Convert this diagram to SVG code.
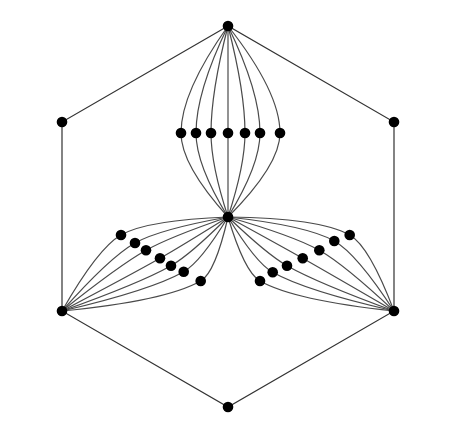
<svg xmlns="http://www.w3.org/2000/svg" width="460" height="429" viewBox="0 0 460 429">
<style>
.edge{fill:none;stroke:#333;stroke-width:1.2}
.curve{fill:none;stroke:#4a4a4a;stroke-width:1.2}
.node{fill:#000}
</style>
<rect width="460" height="429" fill="#fff"/>
<g id="connectors">
<path class="edge" d="M228,26 L62,122 L62,311 L228,407 L394,311 L394,122 Z"/>
<path class="curve" d="M228,26 Q181,92 181,133 Q181,165 228,217"/>
<path class="curve" d="M228,26 Q196,92 196,133 Q196,165 228,217"/>
<path class="curve" d="M228,26 Q211,92 211,133 Q211,165 228,217"/>
<path class="curve" d="M228,26 L228,217"/>
<path class="curve" d="M228,26 Q245,92 245,133 Q245,165 228,217"/>
<path class="curve" d="M228,26 Q260,92 260,133 Q260,165 228,217"/>
<path class="curve" d="M228,26 Q280,92 280,133 Q280,165 228,217"/>
<path class="curve" d="M228,217 Q147.6,219.9 121,235 Q97.9,248.1 62,311"/>
<path class="curve" d="M228,217 Q159.5,229.2 135,243 Q109.7,257.3 62,311"/>
<path class="curve" d="M228,217 Q168.9,237.3 146,250.3 Q119.1,265.5 62,311"/>
<path class="curve" d="M228,217 Q180.8,246.5 160,258.3 Q130.9,274.8 62,311"/>
<path class="curve" d="M228,217 Q190.2,254.8 171,265.7 Q140.4,283 62,311"/>
<path class="curve" d="M228,217 Q200.8,262 183.7,271.7 Q151,290.2 62,311"/>
<path class="curve" d="M228,217 Q215.2,272.8 200.7,281 Q165.3,301 62,311"/>
<path class="curve" d="M228,217 Q319.8,218.1 349.7,235 Q369.5,246.2 394,311"/>
<path class="curve" d="M228,217 Q307.1,225.6 334.3,241 Q356.8,253.8 394,311"/>
<path class="curve" d="M228,217 Q294.2,236.1 319.3,250.3 Q344.1,264.3 394,311"/>
<path class="curve" d="M228,217 Q280.4,245.7 302.7,258.3 Q330.2,273.9 394,311"/>
<path class="curve" d="M228,217 Q267.3,254.6 287,265.7 Q317.1,282.8 394,311"/>
<path class="curve" d="M228,217 Q255.5,262.5 272.7,272.3 Q305.3,290.7 394,311"/>
<path class="curve" d="M228,217 Q244.5,272.2 260,281 Q294.3,300.4 394,311"/>
</g>
<g id="n-top"><circle class="node" cx="228" cy="26" r="5.3"/></g>
<g id="n-ul"><circle class="node" cx="62" cy="122" r="5.3"/></g>
<g id="n-ur"><circle class="node" cx="394" cy="122" r="5.3"/></g>
<g id="n-ll"><circle class="node" cx="62" cy="311" r="5.3"/></g>
<g id="n-lr"><circle class="node" cx="394" cy="311" r="5.3"/></g>
<g id="n-bottom"><circle class="node" cx="228" cy="407" r="5.3"/></g>
<g id="n-hub"><circle class="node" cx="228" cy="217" r="5.3"/></g>
<g id="n-t1"><circle class="node" cx="181" cy="133" r="5.3"/></g>
<g id="n-t2"><circle class="node" cx="196" cy="133" r="5.3"/></g>
<g id="n-t3"><circle class="node" cx="211" cy="133" r="5.3"/></g>
<g id="n-t4"><circle class="node" cx="228" cy="133" r="5.3"/></g>
<g id="n-t5"><circle class="node" cx="245" cy="133" r="5.3"/></g>
<g id="n-t6"><circle class="node" cx="260" cy="133" r="5.3"/></g>
<g id="n-t7"><circle class="node" cx="280" cy="133" r="5.3"/></g>
<g id="n-l1"><circle class="node" cx="121" cy="235" r="5.3"/></g>
<g id="n-l2"><circle class="node" cx="135" cy="243" r="5.3"/></g>
<g id="n-l3"><circle class="node" cx="146" cy="250.3" r="5.3"/></g>
<g id="n-l4"><circle class="node" cx="160" cy="258.3" r="5.3"/></g>
<g id="n-l5"><circle class="node" cx="171" cy="265.7" r="5.3"/></g>
<g id="n-l6"><circle class="node" cx="183.7" cy="271.7" r="5.3"/></g>
<g id="n-l7"><circle class="node" cx="200.7" cy="281" r="5.3"/></g>
<g id="n-r1"><circle class="node" cx="349.7" cy="235" r="5.3"/></g>
<g id="n-r2"><circle class="node" cx="334.3" cy="241" r="5.3"/></g>
<g id="n-r3"><circle class="node" cx="319.3" cy="250.3" r="5.3"/></g>
<g id="n-r4"><circle class="node" cx="302.7" cy="258.3" r="5.3"/></g>
<g id="n-r5"><circle class="node" cx="287" cy="265.7" r="5.3"/></g>
<g id="n-r6"><circle class="node" cx="272.7" cy="272.3" r="5.3"/></g>
<g id="n-r7"><circle class="node" cx="260" cy="281" r="5.3"/></g>
</svg>
